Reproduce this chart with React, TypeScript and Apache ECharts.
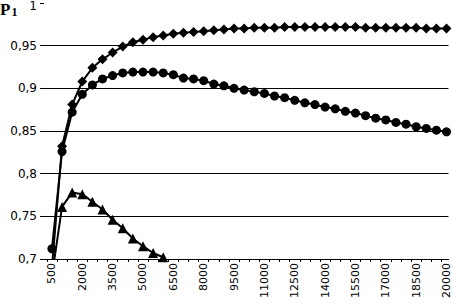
import React, { useEffect, useRef } from "react";
import * as echarts from "echarts";

const xValues = [
  500, 1000, 1500, 2000, 2500, 3000, 3500, 4000, 4500, 5000,
  5500, 6000, 6500, 7000, 7500, 8000, 8500, 9000, 9500, 10000,
  10500, 11000, 11500, 12000, 12500, 13000, 13500, 14000, 14500, 15000,
  15500, 16000, 16500, 17000, 17500, 18000, 18500, 19000, 19500, 20000,
];

const xLabelValues = [
  500, 2000, 3500, 5000, 6500, 8000, 9500, 11000, 12500, 14000, 15500, 17000, 18500, 20000,
];

const yTickValues = [0.7, 0.75, 0.8, 0.85, 0.9, 0.95, 1];

const diamondValues = [
  0.69, 0.832, 0.881, 0.908, 0.924, 0.934, 0.942, 0.949, 0.954, 0.957,
  0.96, 0.962, 0.964, 0.965, 0.966, 0.967, 0.968, 0.969, 0.97, 0.97,
  0.971, 0.971, 0.971, 0.972, 0.972, 0.972, 0.972, 0.972, 0.972, 0.972,
  0.972, 0.971, 0.971, 0.971, 0.971, 0.971, 0.971, 0.97, 0.97, 0.97,
];

const circleValues = [
  0.712, 0.826, 0.872, 0.893, 0.904, 0.911, 0.915, 0.918, 0.919, 0.919,
  0.919, 0.918, 0.916, 0.912, 0.911, 0.909, 0.905, 0.903, 0.9, 0.898,
  0.896, 0.894, 0.891, 0.889, 0.886, 0.883, 0.881, 0.878, 0.876, 0.873,
  0.871, 0.868, 0.865, 0.863, 0.86, 0.858, 0.855, 0.853, 0.851, 0.849,
];

const triangleValues = [
  0.68, 0.761, 0.778, 0.776, 0.767, 0.758, 0.746, 0.736, 0.724, 0.715,
  0.707, 0.702, 0.69,
];

const toPairs = (vals: (number | null)[]) => vals.map((v, i) => [xValues[i], v]);

const fmtY = (v: number) => {
  const s = String(Math.round(v * 100) / 100).replace(".", ",");
  return v >= 1 ? "{t|" + s + "}" : s;
};

export default function App() {
  const ref = useRef<HTMLDivElement>(null);
  useEffect(() => {
    if (!ref.current) return;
    const chart = echarts.init(ref.current, undefined, { renderer: "svg" });
    const lineStyle = { color: "#000", width: 2 };
    const itemStyle = { color: "#000" };
    chart.setOption({
      animation: false,
      backgroundColor: "#fff",
      title: {
        text: "{p|P}{s|1}",
        left: 0,
        top: 0,
        padding: 0,
        textStyle: {
          rich: {
            p: {
              fontFamily: "Liberation Serif",
              fontWeight: "bold",
              fontSize: 17,
              lineHeight: 18,
              color: "#000",
            },
            s: {
              fontFamily: "Liberation Serif",
              fontWeight: "bold",
              fontSize: 12,
              lineHeight: 12,
              verticalAlign: "bottom",
              color: "#000",
              padding: [0, 0, 0, 1],
            },
          },
        },
      },
      grid: { left: 44, top: 3, width: 408, height: 256, containLabel: false },
      xAxis: {
        type: "value",
        min: 108,
        max: 20098,
        axisLine: { show: true, lineStyle: { color: "#000", width: 1 } },
        axisTick: {
          show: true,
          length: 3,
          lineStyle: { color: "#000" },
          customValues: xValues.map((v) => v - 250),
        },
        axisLabel: {
          customValues: xLabelValues,
          formatter: (v: number) => String(v),
          rotate: 90,
          margin: 4,
          color: "#000",
          fontFamily: "DejaVu Sans",
          fontSize: 11,
        },
        splitLine: { show: false },
      },
      yAxis: {
        type: "value",
        min: yTickValues[0],
        max: yTickValues[yTickValues.length - 1],
        interval: 0.05,
        axisLine: { show: false },
        axisTick: { show: true, length: 4, lineStyle: { color: "#000" } },
        axisLabel: {
          formatter: fmtY,
          margin: 7,
          color: "#000",
          fontFamily: "DejaVu Sans",
          fontSize: 12,
          rich: {
            t: {
              fontFamily: "DejaVu Sans",
              fontSize: 12,
              color: "#000",
              padding: [6, 0, 0, 0],
            },
          },
        },
        splitLine: {
          show: true,
          showMaxLine: false,
          lineStyle: { color: "#000", width: 1 },
        },
      },
      series: [
        {
          type: "line",
          data: toPairs(diamondValues),
          symbol: "diamond",
          symbolSize: 10,
          lineStyle,
          itemStyle,
        },
        {
          type: "line",
          data: toPairs(circleValues),
          symbol: "circle",
          symbolSize: 9,
          lineStyle,
          itemStyle,
        },
        {
          type: "line",
          data: toPairs(triangleValues),
          symbol: "triangle",
          symbolSize: 10,
          lineStyle,
          itemStyle,
        },
      ],
    });
    return () => chart.dispose();
  }, []);
  return (
    <div
      ref={ref}
      style={{ position: "fixed", left: 0, top: 0, width: 452, height: 306, background: "#fff" }}
    />
  );
}
